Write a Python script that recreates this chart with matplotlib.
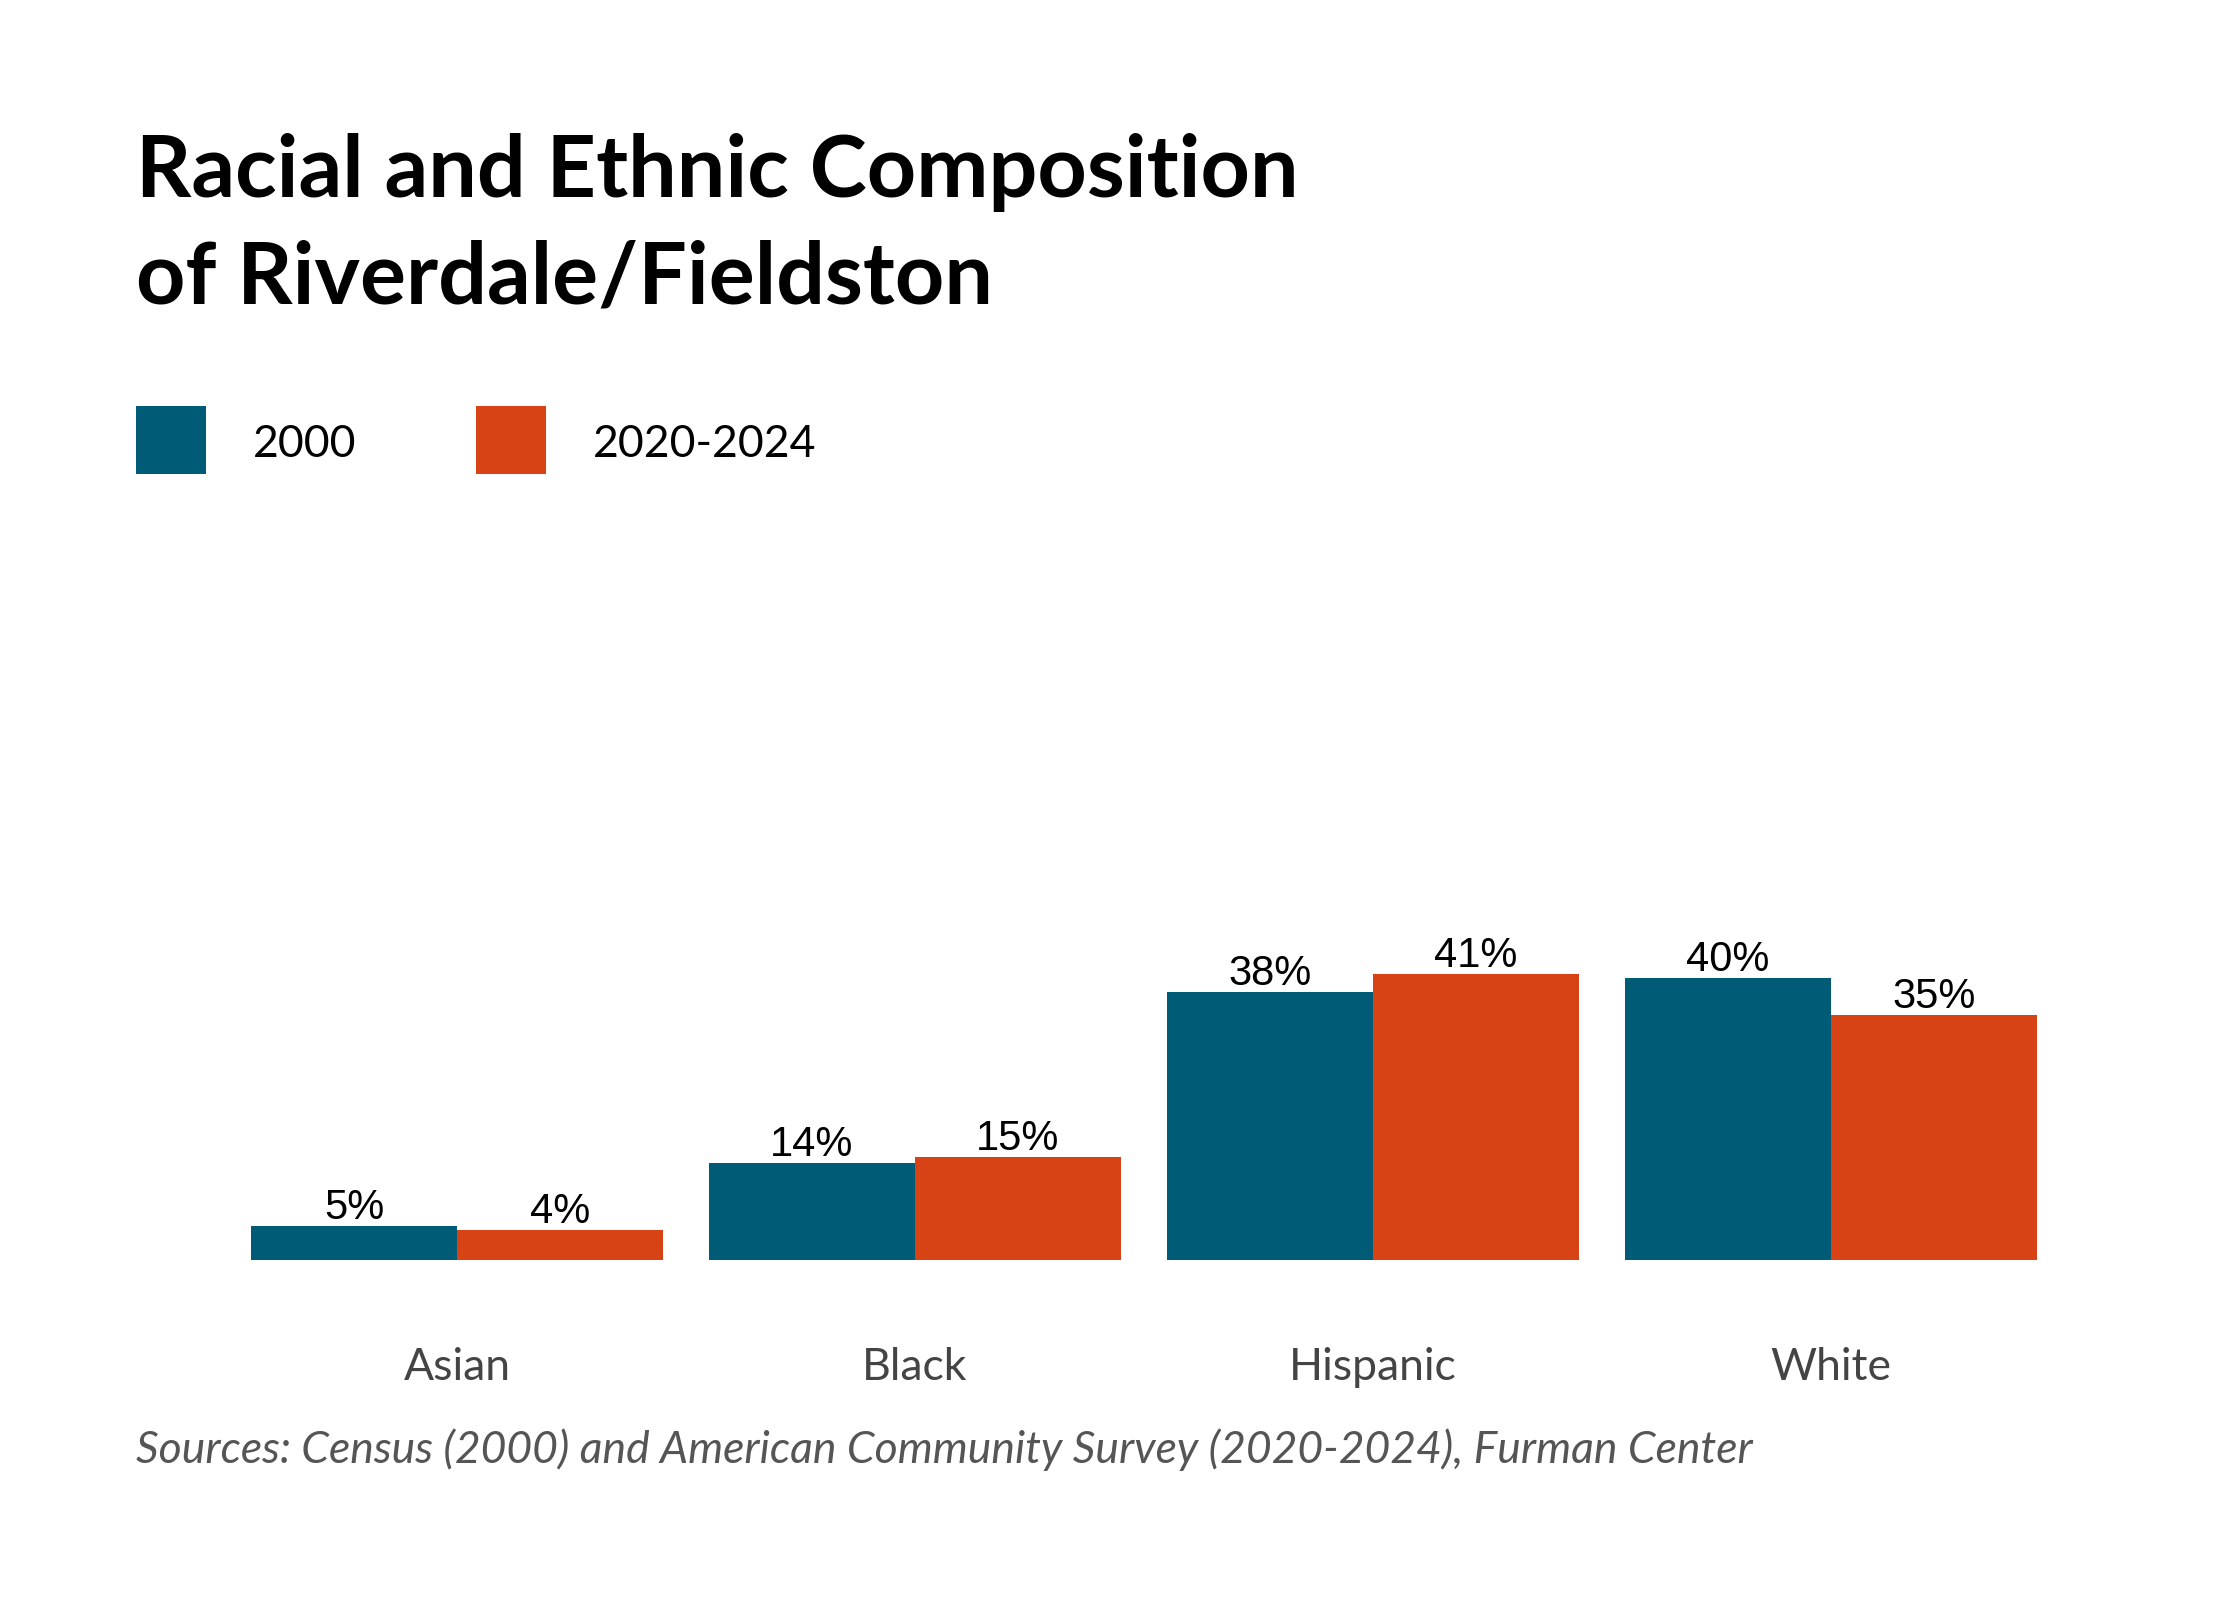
import numpy as np
import matplotlib
matplotlib.use("Agg")
from matplotlib import pyplot as plt
from matplotlib.patches import Rectangle

# ---------------------------------------------------------------- data
categories = ["Asian", "Black", "Hispanic", "White"]
share_2000 = [4.9, 13.9, 38.4, 40.4]
share_2020 = [4.3, 14.8, 41.0, 35.1]
series_names = ["2000", "2020-2024"]

title_lines = ["Racial and Ethnic Composition", "of Riverdale/Fieldston"]
source = "Sources: Census (2000) and American Community Survey (2020-2024), Furman Center"

# ---------------------------------------------------------------- style
BLUE = "#005B76"
ORANGE = "#D84315"
W, H = 2240, 1600
DPI = 200

fig = plt.figure(figsize=(W / DPI, H / DPI), dpi=DPI)
fig.patch.set_facecolor("white")

# axes placed in pixel terms (from top-left)
ax_left, ax_right = 228, 2060
ax_base, ax_top = 1260, 460
ax = fig.add_axes([ax_left / W, 1 - ax_base / H,
                   (ax_right - ax_left) / W, (ax_base - ax_top) / H])
px_per_pct = 6.98
ax.set_xlim(-0.5, len(categories) - 0.5)
ax.set_ylim(0, (ax_base - ax_top) / px_per_pct)
ax.axis("off")

x = np.arange(len(categories))
bw = 0.45
b1 = ax.bar(x - bw / 2, share_2000, bw, color=BLUE, linewidth=0)
b2 = ax.bar(x + bw / 2, share_2020, bw, color=ORANGE, linewidth=0)

for bars in (b1, b2):
    for rect in bars:
        v = rect.get_height()
        ax.annotate("{:.0f}%".format(v),
                    (rect.get_x() + rect.get_width() / 2, v),
                    xytext=(0, 2.5), textcoords="offset points",
                    ha="center", va="baseline", fontsize=15,
                    family="Liberation Sans", color="black")

for xi, cat in zip(x, categories):
    ax.text(xi, -(1380 - ax_base) / px_per_pct, cat, ha="center",
            va="baseline", fontsize=16, family="Lato", color="#444444")

# title, one text per line
for i, line in enumerate(title_lines):
    fig.text(136 / W, 1 - (197 + 107 * i) / H, line, ha="left",
             va="baseline", fontsize=31, fontweight="bold",
             family="Lato", color="black")

# legend
for i, name in enumerate(series_names):
    x0 = [136, 476][i]
    fig.patches.append(Rectangle((x0 / W, 1 - 474 / H), 70 / W, 68 / H,
                                 transform=fig.transFigure,
                                 color=[BLUE, ORANGE][i], linewidth=0))
    fig.text([253, 593][i] / W, 1 - 457 / H, name, ha="left",
             va="baseline", fontsize=16, family="Lato", color="black")

# source
fig.text(136 / W, 1 - 1463 / H, source, ha="left", va="baseline",
         fontsize=16, style="italic", family="Lato", color="#555555")

fig.savefig("out.png", dpi=DPI, facecolor="white")
